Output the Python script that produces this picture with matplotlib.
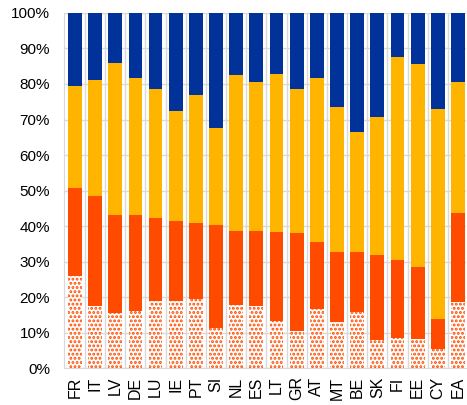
import numpy as np
import matplotlib
matplotlib.use('Agg')
import matplotlib.pyplot as plt
from matplotlib.ticker import PercentFormatter

plt.rcParams['font.family'] = ['Liberation Sans', 'DejaVu Sans']
plt.rcParams['hatch.linewidth'] = 1.4

countries = ['FR', 'IT', 'LV', 'DE', 'LU', 'IE', 'PT', 'SI', 'NL', 'ES',
             'LT', 'GR', 'AT', 'MT', 'BE', 'SK', 'FI', 'EE', 'CY', 'EA']

# cumulative shares (top of each segment), in %
dotted_top = [26.0, 17.4, 15.5, 16.0, 18.8, 18.9, 19.4, 11.4, 17.7, 17.4,
              13.4, 10.5, 16.7, 12.9, 15.8, 7.8, 8.4, 8.3, 5.4, 18.5]
red_top = [50.7, 48.5, 43.0, 43.0, 42.4, 41.3, 40.8, 40.3, 38.6, 38.6,
           38.4, 38.1, 35.5, 32.7, 32.6, 31.9, 30.4, 28.6, 13.9, 43.6]
yellow_top = [79.3, 81.0, 86.0, 81.6, 78.6, 72.3, 76.8, 67.5, 82.4, 80.7,
              82.7, 78.5, 81.7, 73.5, 66.4, 70.7, 87.5, 85.6, 73.1, 80.6]

dotted = np.array(dotted_top)
red = np.array(red_top) - dotted
yellow = np.array(yellow_top) - np.array(red_top)
blue = 100 - np.array(yellow_top)

fig = plt.figure(figsize=(4.67, 4.05), dpi=100)
ax = fig.add_axes([0.137, 0.091, 0.861, 0.877])

x = np.arange(len(countries))
w = 0.68
ax.bar(x, dotted, w, color='white', edgecolor='#FF4B00', hatch='....', linewidth=0, zorder=3)
ax.bar(x, red, w, bottom=dotted, color='#FF4B00', linewidth=0, zorder=3)
ax.bar(x, yellow, w, bottom=np.array(red_top), color='#FFB400', linewidth=0, zorder=3)
ax.bar(x, blue, w, bottom=np.array(yellow_top), color='#003299', linewidth=0, zorder=3)

ax.set_xlim(-0.54, 19.4)
ax.set_ylim(0, 100)
ax.set_yticks(np.arange(0, 101, 10))
ax.yaxis.set_major_formatter(PercentFormatter(decimals=0))
ax.set_xticks(x)
ax.set_xticklabels(countries, rotation=90, fontsize=11.5)
ax.set_xticks(x[:-1] + 0.5, minor=True)
ax.tick_params(axis='y', labelsize=11, length=0, pad=10)
ax.tick_params(axis='x', which='both', length=0, pad=6)

ax.grid(axis='y', color='#d9d9d9', linewidth=1, zorder=0)
ax.grid(axis='x', which='minor', color='#d9d9d9', linewidth=1, zorder=0)
for s in ['top', 'right']:
    ax.spines[s].set_visible(False)
for s in ['left', 'bottom']:
    ax.spines[s].set_color('#d9d9d9')

fig.savefig('out.png', dpi=100)
